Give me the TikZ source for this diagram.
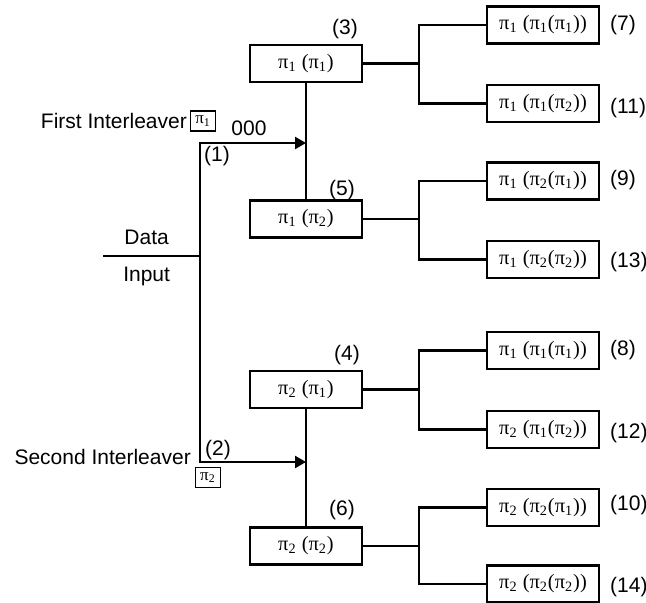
\documentclass[tikz,border=0pt]{standalone}
\usepackage{fontspec}
\setmainfont{Liberation Sans}
\newfontfamily\grk{Liberation Serif}
\usetikzlibrary{arrows.meta}
\newcommand{\perm}[1]{π\textsubscript{#1}}

\begin{document}
\begin{tikzpicture}[x=0.5pt, y=-0.5pt, >={Triangle[length=5.5pt,width=6pt]}, line width=1.2pt]
      \tikzstyle{box}=[draw, minimum width=56pt, minimum height=18.5pt, inner sep=0pt, font=\grk\fontsize{10.2}{12}\selectfont]
      \tikzstyle{tag}=[font=\fontsize{10.5}{12}\selectfont, inner sep=1pt]
      \tikzstyle{pibox}=[draw, line width=0.6pt, minimum width=12.5pt, minimum height=10pt, inner sep=0.5pt, font=\grk\fontsize{8.5}{10}\selectfont]
      \useasboundingbox (0,0) rectangle (646,603);

      % draw boxes

      \foreach \t/\n/\y in {{\perm1 (\perm1)}/3/63.5, {\perm1 (\perm2)}/5/219, {\perm2 (\perm1)}/4/389.5, {\perm2 (\perm2)}/6/546}
      \node [box] (stage-\n) at (306,\y) {\t};

      \foreach \t/\n/\y in {{\perm1 (\perm1(\perm1))}/7/25, {\perm1 (\perm1(\perm2))}/11/103.5, {\perm1 (\perm2(\perm1))}/9/181, {\perm1 (\perm2(\perm2))}/13/259.5, {\perm1 (\perm1(\perm1))}/8/350.5, {\perm2 (\perm1(\perm2))}/12/429.5, {\perm2 (\perm2(\perm1))}/10/507.5, {\perm2 (\perm2(\perm2))}/14/584}
      \node [box] (leaf-\n) at (543,\y) {\t};

      % draw text

      \foreach \n/\x/\y in {3/345/29, 5/342/190, 4/347/355, 6/342/510}
      \node [tag] (num-\n) at (\x,\y) {(\n)};

      \foreach \n/\y in {7/25, 11/108, 9/180, 13/262, 8/350, 12/433, 10/505, 14/587}
      \node [tag, anchor=west] (num-\n) at (607,\y) {(\n)};

      \node [tag, anchor=east] (first) at (190,121) {First Interleaver};
      \node [pibox, anchor=west] (pi-first) at (first.east) {\perm1};
      \node [tag, anchor=east] (second) at (194,457) {Second Interleaver};
      \node [pibox] (pi-second) at (208,477.5) {\perm2};

      \node [tag] (zeros) at (249,128) {000};
      \node [tag] (num-1) at (217,156) {(1)};
      \node [tag] (num-2) at (218,450) {(2)};

      % draw lines

      \coordinate (data-in) at (103,256);
      \coordinate (split) at (200,256);
      \coordinate (top) at (200,143);
      \coordinate (bottom) at (200,462);

      \draw (data-in) -- node [tag, above=4pt, pos=0.45] {Data} node [tag, below=4pt, pos=0.45] {Input} (split);
      \draw [->] (split) -- (top) -- (stage-3 |- top);
      \draw [->] (split) -- (bottom) -- (stage-4 |- bottom);

      \draw (stage-3) -- (stage-5);
      \draw (stage-4) -- (stage-6);

      \foreach \s/\a/\b in {3/7/11, 5/9/13, 4/8/12, 6/10/14} {
          \draw (stage-\s.east) -- ++(56,0) coordinate (fork-\s);
          \draw (leaf-\a.west) -| (fork-\s) |- (leaf-\b.west);};

    \end{tikzpicture}
\end{document}
